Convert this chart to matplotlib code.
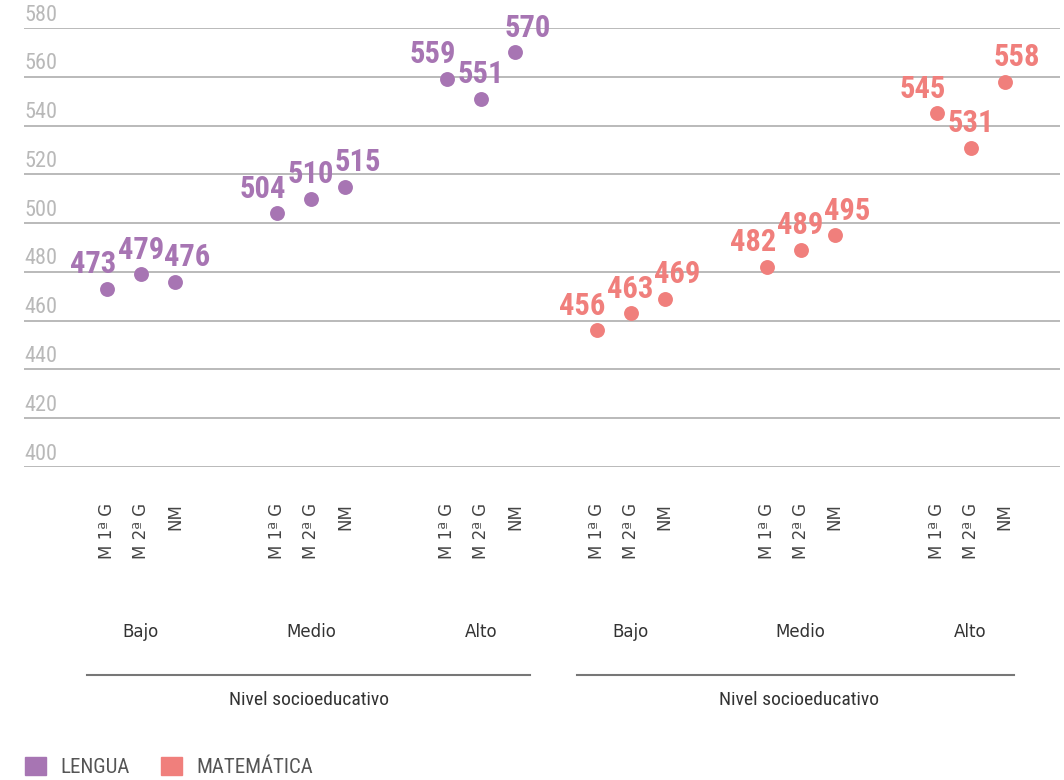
import matplotlib
matplotlib.use('Agg')
import matplotlib.pyplot as plt
import matplotlib.transforms as mtransforms
from matplotlib.patches import Patch
from matplotlib import font_manager
import numpy as np

# data
levels = ['Bajo', 'Medio', 'Alto']
grades = ['M 1ª G', 'M 2ª G', 'NM']
lengua = [[473, 479, 476], [504, 510, 515], [559, 551, 570]]
matematica = [[456, 463, 469], [482, 489, 495], [545, 531, 558]]
series_names = ['LENGUA', 'MATEMÁTICA']
axis_title = 'Nivel socioeducativo'
yticks = [400, 420, 440, 460, 480, 500, 520, 540, 560, 580]

purple = '#a775b3'
salmon = '#f07f7c'

# pick a condensed face if one is there
installed = {f.name for f in font_manager.fontManager.ttflist}
narrow_name = None
for cand in ['Liberation Sans Narrow', 'Roboto Condensed', 'Open Sans Condensed',
             'Noto Sans Condensed', 'DejaVu Sans Condensed', 'Noto Sans Display Condensed']:
    if cand in installed:
        narrow_name = cand
        break
if narrow_name is None:
    narrow = dict(family=['DejaVu Sans'], fontstretch='condensed')
else:
    narrow = dict(family=[narrow_name, 'DejaVu Sans'], fontstretch='condensed')
plain = dict(family=['DejaVu Sans'])

fig = plt.figure(figsize=(10.64, 7.8), dpi=100)
W, H = 1064, 780
ax = fig.add_axes([24 / W, 1 - 467 / H, (1060 - 24) / W, (467 - 28) / H])
ax.set_xlim(-0.688, 5.406)
ax.set_ylim(400, 580)

ylab_t = mtransforms.blended_transform_factory(ax.transAxes, ax.transData)
for v in yticks:
    ax.axhline(v, color='#b4b4b4', lw=1.3, zorder=1)
    ax.text(0.0, v + 1.0, str(v), transform=ylab_t, ha='left', va='bottom',
            fontsize=16, color='#b9b9b9', **narrow)

panel_offsets = [0.0, 2.88]
step = 0.2
label_dx = [-10, 0, 9]
bt = mtransforms.blended_transform_factory(ax.transData, fig.transFigure)
tick_pos, tick_lab = [], []
for series, off, col in [(lengua, panel_offsets[0], purple), (matematica, panel_offsets[1], salmon)]:
    for g, vals in enumerate(series):
        xs = off + g + step * (np.arange(len(vals)) - 1)
        ax.scatter(xs, vals, s=115, color=col, zorder=3, linewidths=0)
        for i, (x, v) in enumerate(zip(xs, vals)):
            ax.annotate(str(v), (x, v), xytext=(label_dx[i], 7), textcoords='offset points',
                        ha='center', va='bottom', fontsize=22, fontweight='bold',
                        color=col, annotation_clip=False, **narrow)
        tick_pos += list(xs)
        tick_lab += grades
        ax.text(off + g, 1 - 632 / H, levels[g], transform=bt,
                ha='center', va='center', fontsize=12, color='#333333', **plain)
    # bracket line and axis title
    x0, x1 = off - 0.318, off + 2.288 + (0.0 if off == 0 else -0.03)
    ax.plot([x0, x1], [1 - 675 / H] * 2, transform=bt, color='#777777', lw=1.5, clip_on=False)
    ax.text(off + 0.99, 1 - 700 / H, axis_title, transform=bt, ha='center', va='center',
            fontsize=14, color='#333333', **narrow)

ax.set_xticks(tick_pos)
ax.set_xticklabels(tick_lab, rotation=90, fontsize=12, color='#444444', va='top', **plain)
ax.tick_params(axis='x', length=0, pad=26)
ax.set_yticks([])
for s in ax.spines.values():
    s.set_visible(False)

handles = [Patch(color=purple), Patch(color=salmon)]
leg = fig.legend(handles, series_names, loc='lower left', bbox_to_anchor=(6 / W, -16 / H), ncol=2,
                 frameon=False, handlelength=1.0, handleheight=1.0, handletextpad=0.7,
                 columnspacing=1.5, fontsize=15, labelcolor='#555555')
for t in leg.get_texts():
    t.set_family(narrow['family'])
    t.set_fontstretch('condensed')

fig.savefig('out.png', dpi=100)
